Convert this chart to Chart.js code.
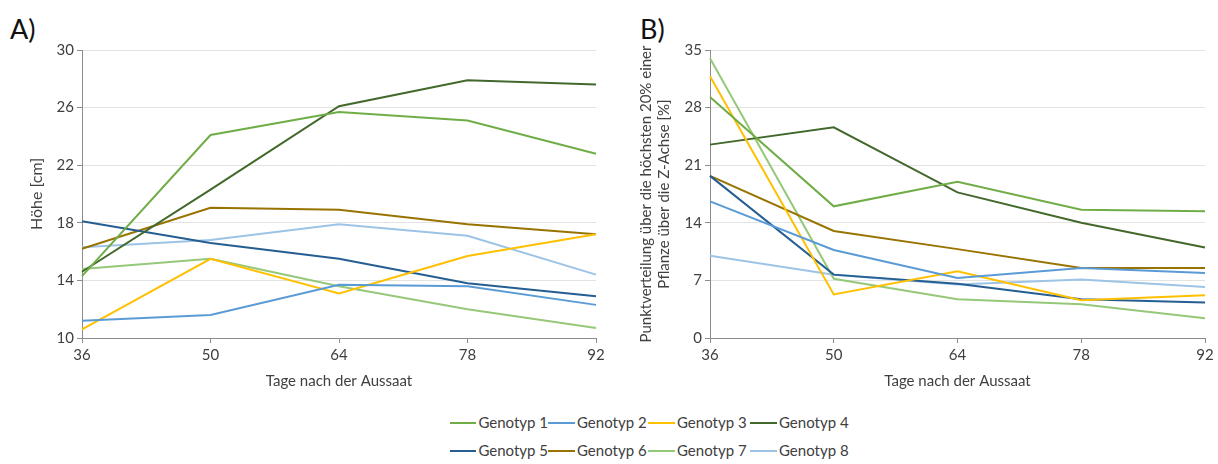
<!DOCTYPE html>
<html>
<head>
<meta charset="utf-8">
<script src="https://cdn.jsdelivr.net/npm/chart.js@4"></script>
<style>
    html, body { margin: 0; padding: 0; background: #fff; }
    body { width: 1218px; height: 464px; position: relative; overflow: hidden; font-family: Lato, sans-serif; }
    .panel-label { position: absolute; top: 12px; font-size: 27px; color: #111; }
    #chartA { position: absolute; left: 0; top: 0; }
    #chartB { position: absolute; left: 610px; top: 0; }
    #legend { position: absolute; left: 450px; top: 413px; display: grid; grid-template-columns: 98px 100px 102px 104px; row-gap: 9px; }
    .item { display: flex; align-items: center; font-size: 15px; line-height: 19px; color: #404040; white-space: nowrap; }
    .swatch { width: 27px; height: 2px; margin-right: 2px; }
</style>
</head>
<body>
<div class="panel-label" style="left:10px">A)</div>
<div class="panel-label" style="left:640px">B)</div>
<canvas id="chartA" width="610" height="400"></canvas>
<canvas id="chartB" width="608" height="400"></canvas>
<div id="legend"></div>

<script>
// x-Achse: Tage nach der Aussaat
const days = ['36', '50', '64', '78', '92'];
const genotypes = ['Genotyp 1', 'Genotyp 2', 'Genotyp 3', 'Genotyp 4',
                   'Genotyp 5', 'Genotyp 6', 'Genotyp 7', 'Genotyp 8'];

// A) Höhe [cm]
const hoeheG1 = [14.3, 24.1, 25.7, 25.1, 22.8];
const hoeheG2 = [11.2, 11.6, 13.7, 13.6, 12.3];
const hoeheG3 = [10.6, 15.5, 13.1, 15.7, 17.2];
const hoeheG4 = [14.6, 20.3, 26.1, 27.9, 27.6];
const hoeheG5 = [18.1, 16.6, 15.5, 13.8, 12.9];
const hoeheG6 = [16.2, 19.05, 18.9, 17.9, 17.2];
const hoeheG7 = [14.8, 15.5, 13.6, 12.0, 10.7];
const hoeheG8 = [16.3, 16.8, 17.9, 17.1, 14.4];

// B) Punktverteilung höchste 20% [%]
const anteilG1 = [29.3, 16.0, 19.0, 15.6, 15.4];
const anteilG2 = [16.6, 10.7, 7.3, 8.5, 7.9];
const anteilG3 = [31.8, 5.3, 8.1, 4.6, 5.2];
const anteilG4 = [23.5, 25.6, 17.7, 14.0, 11.0];
const anteilG5 = [19.7, 7.7, 6.6, 4.7, 4.3];
const anteilG6 = [19.7, 13.0, 10.8, 8.5, 8.5];
const anteilG7 = [34.0, 7.2, 4.7, 4.1, 2.4];
const anteilG8 = [10.0, 7.7, 6.5, 7.1, 6.2];

const hoehe = [hoeheG1, hoeheG2, hoeheG3, hoeheG4, hoeheG5, hoeheG6, hoeheG7, hoeheG8];
const anteil = [anteilG1, anteilG2, anteilG3, anteilG4, anteilG5, anteilG6, anteilG7, anteilG8];

const lineColors = ['#70AD47', '#5B9BD5', '#FFC000', '#43682B',
                    '#255E91', '#997300', '#95C879', '#9DC3E6'];

const FONT = 'Lato, sans-serif';
const TEXT = '#404040';
const AXIS = '#8c8c8c';

function buildDatasets(series) {
    return series.map((values, i) => ({
        label: genotypes[i],
        data: values,
        borderColor: lineColors[i],
        backgroundColor: lineColors[i],
        borderWidth: 2,
        pointRadius: 0,
        tension: 0
    }));
}

function makeChart(canvasId, series, yMin, yMax, yStep, yTitle, titleSize, titlePad, yWidth, rightPad) {
    return new Chart(document.getElementById(canvasId), {
        type: 'line',
        data: { labels: days, datasets: buildDatasets(series) },
        options: {
            responsive: false,
            animation: false,
            layout: { padding: { top: 50, right: rightPad, left: 0, bottom: 0 } },
            plugins: { legend: { display: false }, tooltip: { enabled: false } },
            scales: {
                x: {
                    offset: false,
                    grid: { drawOnChartArea: false, tickColor: AXIS, tickLength: 5 },
                    border: { color: AXIS, width: 1 },
                    ticks: { color: TEXT, font: { family: FONT, size: 15 }, padding: 3, maxRotation: 0 },
                    title: {
                        display: true, text: 'Tage nach der Aussaat', color: TEXT,
                        font: { family: FONT, size: 15 }, padding: { top: 0, bottom: 10 }
                    },
                    afterFit: (scale) => { scale.height = 62; }
                },
                y: {
                    min: yMin, max: yMax,
                    grid: { color: '#e3e3e3', tickColor: AXIS, tickLength: 5 },
                    border: { color: AXIS, width: 1 },
                    ticks: { stepSize: yStep, color: TEXT, font: { family: FONT, size: 15 }, padding: 3 },
                    title: {
                        display: true, text: yTitle, color: TEXT,
                        font: { family: FONT, size: titleSize }, padding: { top: titlePad, bottom: 0 }
                    },
                    afterFit: (scale) => { scale.width = yWidth; }
                }
            }
        }
    });
}

makeChart('chartA', hoehe, 10, 30, 4, 'Höhe [cm]', 16, 27, 82, 14);
makeChart('chartB', anteil, 0, 35, 7,
    ['Punktverteilung über die höchsten 20% einer', 'Pflanze über die Z-Achse [%]'], 15, 27, 100, 13);

// gemeinsame Legende
const legend = document.getElementById('legend');
genotypes.forEach((name, i) => {
    const item = document.createElement('div');
    item.className = 'item';
    const sw = document.createElement('span');
    sw.className = 'swatch';
    sw.style.background = lineColors[i];
    item.appendChild(sw);
    item.appendChild(document.createTextNode(name));
    legend.appendChild(item);
});
</script>
</body>
</html>
